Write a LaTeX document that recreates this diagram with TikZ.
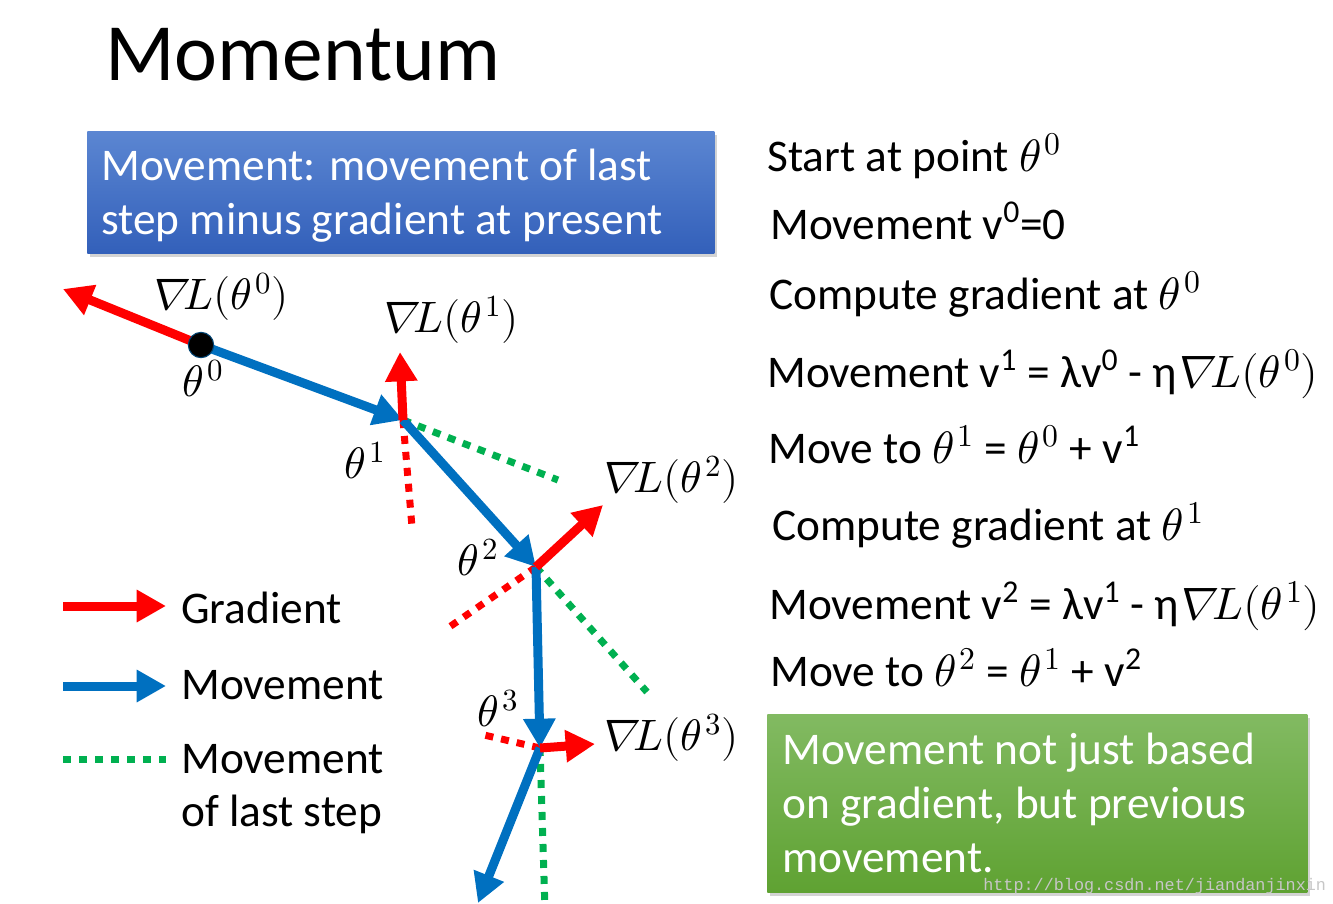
\documentclass[tikz,border=0pt]{standalone}
\usepackage{fontspec}
\usepackage{unicode-math}
\setmainfont{Carlito}
\setmathfont{Latin Modern Math}
\newfontfamily\wmfont{Liberation Mono}
\newfontfamily\nablafont[FakeSlant=0.22]{Latin Modern Math}
\newcommand\snabla{\mathord{\kern-0.07em\hbox{\nablafont ∇}\kern-0.03em}}
\newcommand\sth[1]{\theta^{\mkern2mu #1}}
\usetikzlibrary{arrows.meta,shadows}
\definecolor{pred}{HTML}{FF0000}
\definecolor{pblue}{HTML}{0070C0}
\definecolor{pgreen}{HTML}{00B050}
\definecolor{btop}{HTML}{5B86D2}
\definecolor{bbot}{HTML}{3360BA}
\definecolor{gtop}{HTML}{82BA62}
\definecolor{gbot}{HTML}{5FA232}
\tikzset{
  gradarrow/.style={draw=pred, line width=6.75pt, -{Triangle[length=22pt,width=23pt]}},
  movarrow/.style={draw=pblue, line width=6.75pt, -{Triangle[length=22pt,width=23pt]}},
  lastmv/.style={draw=pgreen, line width=5.25pt, dash pattern=on 6pt off 6pt},
  negrad/.style={draw=pred, line width=5.25pt, dash pattern=on 6pt off 6pt},
  txt/.style={font=\fontsize{34}{40}\selectfont, anchor=base west, inner sep=0pt},
  wtxt/.style={txt, text=white},
  lbl/.style={font=\fontsize{33}{40}\selectfont, inner sep=0pt},
  box/.style={anchor=north west, inner sep=0pt, drop shadow={shadow xshift=2pt, shadow yshift=-2.5pt, opacity=0.35}},
}
\begin{document}
\begin{tikzpicture}[x=0.75pt, y=-0.75pt]
\useasboundingbox (0,0) rectangle (1333,903);

% title
\node (title) [txt, font=\fontsize{61}{70}\selectfont] at (105,80) {Momentum};

% blue box
\node (bbox) [box, minimum width=470.25pt, minimum height=91.5pt, top color=btop, bottom color=bbot] at (87,131) {};
\node (b1) [wtxt] at (101,180) {Movement: movement of last};
\node (b2) [wtxt] at (101,234) {step minus gradient at present};

% green box
\node (gbox) [box, minimum width=405pt, minimum height=133.5pt, top color=gtop, bottom color=gbot] at (767,714) {};
\node (g1) [wtxt] at (782,764) {Movement not just based};
\node (g2) [wtxt] at (782,818) {on gradient, but previous};
\node (g3) [wtxt] at (782,872) {movement.};

% watermark
\node (wm) [anchor=base west, inner sep=0pt, font=\wmfont\fontsize{12.6}{14}\selectfont, text=black!22] at (983,890) {http://blog.csdn.net/jiandanjinxin};

% right column
\node (r1) [txt] at (767,171) {Start at point $\sth{0}$};
\node (r2) [txt] at (770,239) {Movement v\textsuperscript{0}=0};
\node (r3) [txt] at (769,309) {Compute gradient at $\sth{0}$};
\node (r4) [txt] at (767,387) {Movement v\textsuperscript{1} = λv\textsuperscript{0} - η$\snabla L(\sth{0})$};
\node (r5) [txt] at (768,463) {Move to $\sth{1}$ = $\sth{0}$ + v\textsuperscript{1}};
\node (r6) [txt] at (772,540) {Compute gradient at $\sth{1}$};
\node (r7) [txt] at (769,619) {Movement v\textsuperscript{2} = λv\textsuperscript{1} - η$\snabla L(\sth{1})$};
\node (r8) [txt] at (770,686) {Move to $\sth{2}$ = $\sth{1}$ + v\textsuperscript{2}};

% points
\coordinate (t0) at (201,345);
\coordinate (t1) at (403,420);
\coordinate (t2) at (536,567);
\coordinate (t3) at (540,748);
\coordinate (t4) at (478,903);
\coordinate (g0) at (63,289);
\coordinate (gr1) at (400,352);
\coordinate (gr2) at (603,505);
\coordinate (gr3) at (595,744);
\coordinate (n1) at (412,527);
\coordinate (n2) at (445,630);
\coordinate (n3) at (484,735);
\coordinate (l1) at (558,480);
\coordinate (l2) at (647,692);
\coordinate (l3) at (545,910);

% dotted: last movement and negative gradient
\draw[lastmv] (t1) -- (l1);
\draw[lastmv] (t2) -- (l2);
\draw[lastmv] (t3) -- (l3);
\draw[negrad] (t1) -- (n1);
\draw[negrad] (t2) -- (n2);
\draw[negrad] (t3) -- (n3);

% movements
\draw[movarrow] (t0) -- (t1);
\draw[movarrow] (t1) -- (t2);
\draw[movarrow] (t2) -- (t3);
\draw[movarrow] (t3) -- (t4);

% gradients
\draw[gradarrow] (t0) -- (g0);
\draw[gradarrow] (t1) -- (gr1);
\draw[gradarrow] (t2) -- (gr2);
\draw[gradarrow] (t3) -- (gr3);

% start dot
\node (dot) [circle, fill=black, draw=black!40!pblue, line width=0.8pt, minimum size=19pt, inner sep=0pt] at (t0) {};

% labels
\node (L0) [lbl] at (220,297) {$\snabla L(\sth{0})$};
\node (L1) [lbl] at (450,320) {$\snabla L(\sth{1})$};
\node (L2) [lbl] at (670,480) {$\snabla L(\sth{2})$};
\node (L3) [lbl] at (670,738) {$\snabla L(\sth{3})$};
\node (th0) [lbl] at (203,378) {$\sth{0}$};
\node (th1) [lbl] at (365,460) {$\sth{1}$};
\node (th2) [lbl] at (478,557) {$\sth{2}$};
\node (th3) [lbl] at (498,708) {$\sth{3}$};

% legend
\coordinate (lg1a) at (63,606); \coordinate (lg1b) at (166,606);
\coordinate (lg2a) at (63,686); \coordinate (lg2b) at (166,686);
\coordinate (lg3a) at (63,759); \coordinate (lg3b) at (166,759);
\draw[gradarrow] (lg1a) -- (lg1b);
\draw[movarrow] (lg2a) -- (lg2b);
\draw[lastmv] (lg3a) -- (lg3b);
\node (leg1) [txt] at (181,623) {Gradient};
\node (leg2) [txt] at (181,699) {Movement};
\node (leg3) [txt] at (181,773) {Movement};
\node (leg4) [txt] at (181,826) {of last step};
\end{tikzpicture}
\end{document}
